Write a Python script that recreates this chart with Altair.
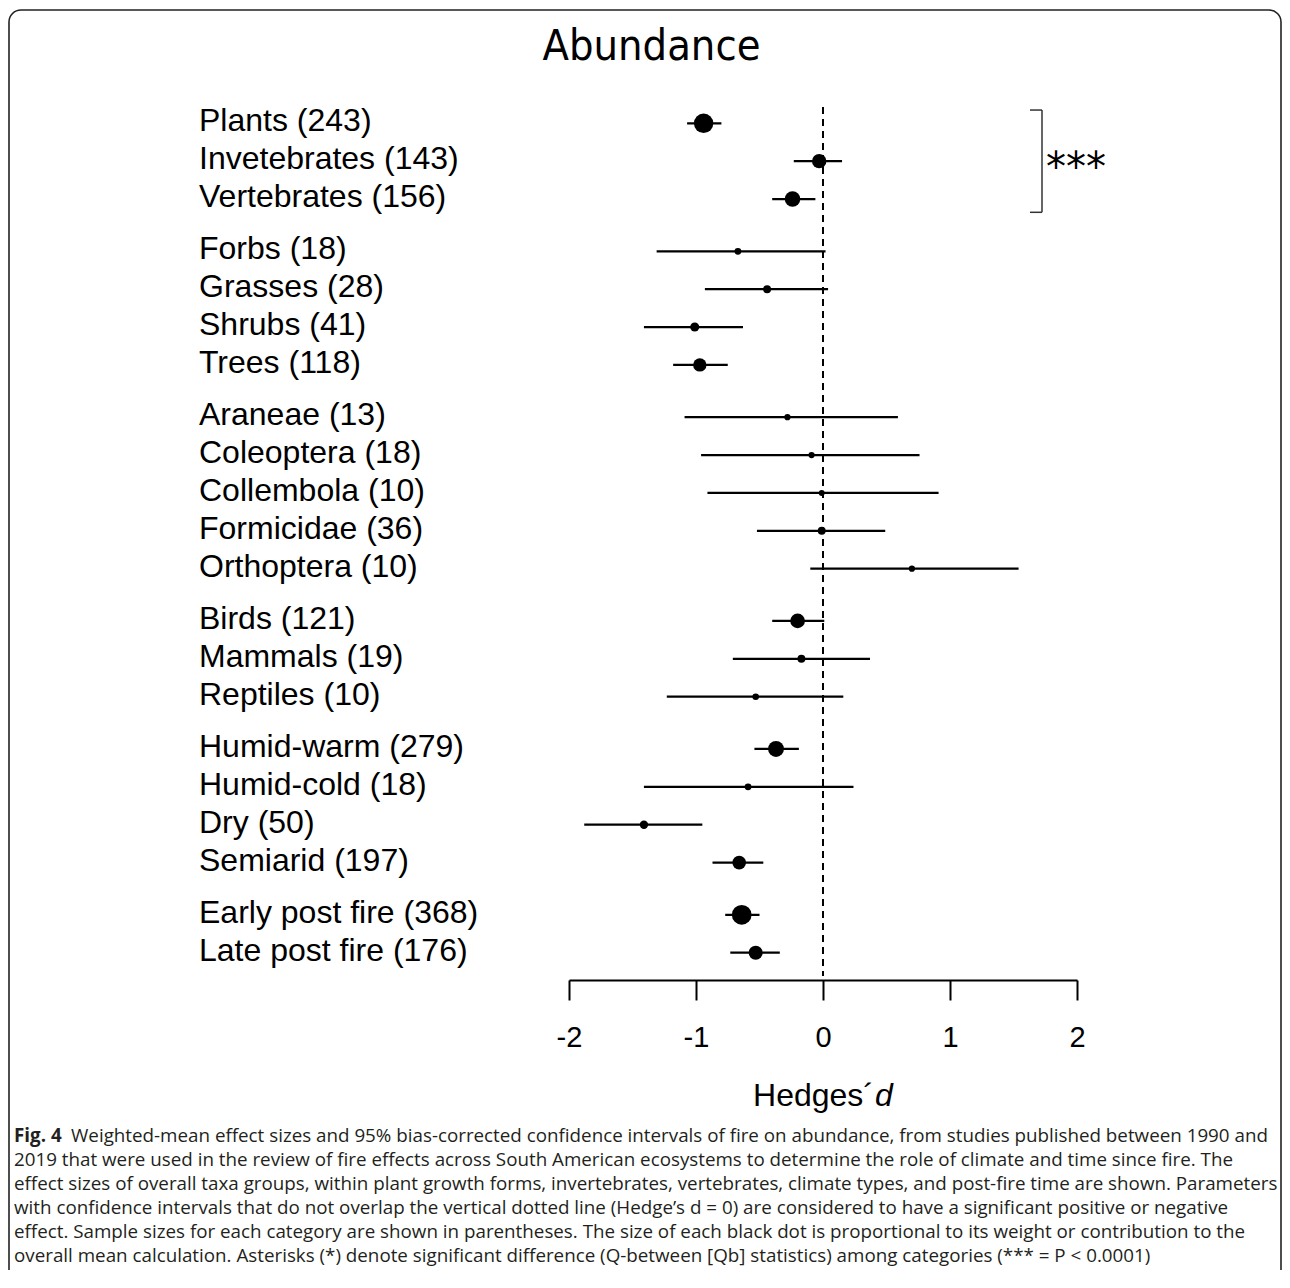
import altair as alt
import pandas as pd

# ---- data ----
names = ["Plants", "Invetebrates", "Vertebrates",
         "Forbs", "Grasses", "Shrubs", "Trees",
         "Araneae", "Coleoptera", "Collembola", "Formicidae", "Orthoptera",
         "Birds", "Mammals", "Reptiles",
         "Humid-warm", "Humid-cold", "Dry", "Semiarid",
         "Early post fire", "Late post fire"]
n = [243, 143, 156, 18, 28, 41, 118, 13, 18, 10, 36, 10, 121, 19, 10,
     279, 18, 50, 197, 368, 176]
group = [0, 0, 0, 1, 1, 1, 1, 2, 2, 2, 2, 2, 3, 3, 3, 4, 4, 4, 4, 5, 5]
mean = [-0.94, -0.03, -0.24, -0.67, -0.44, -1.01, -0.97, -0.28, -0.09, -0.01,
        -0.01, 0.70, -0.20, -0.17, -0.53, -0.37, -0.59, -1.41, -0.66, -0.64, -0.53]
lo = [-1.07, -0.23, -0.40, -1.31, -0.93, -1.41, -1.18, -1.09, -0.96, -0.91,
      -0.52, -0.10, -0.40, -0.71, -1.23, -0.54, -1.41, -1.88, -0.87, -0.77, -0.73]
hi = [-0.80, 0.15, -0.06, 0.02, 0.04, -0.63, -0.75, 0.59, 0.76, 0.91,
      0.49, 1.54, 0.01, 0.37, 0.16, -0.19, 0.24, -0.95, -0.47, -0.50, -0.34]
weight = [97, 53, 62, 12, 16, 21, 46, 10, 10, 9, 16, 10, 55, 16, 11,
          65, 12, 18, 48, 100, 51]

ticks = [-2, -1, 0, 1, 2]
GAP = 0.38

df = pd.DataFrame({
    "name": names, "n": n, "group": group, "mean": mean,
    "lo": lo, "hi": hi, "weight": weight,
})
df["pos"] = [i + GAP * g for i, g in enumerate(group)]
df["label"] = [f"{a} ({b})" for a, b in zip(names, n)]

caption_lines = [
    "2019 that were used in the review of fire effects across South American ecosystems to determine the role of climate and time since fire. The",
    "effect sizes of overall taxa groups, within plant growth forms, invertebrates, vertebrates, climate types, and post-fire time are shown. Parameters",
    "with confidence intervals that do not overlap the vertical dotted line (Hedge\u2019s d = 0) are considered to have a significant positive or negative",
    "effect. Sample sizes for each category are shown in parentheses. The size of each black dot is proportional to its weight or contribution to the",
    "overall mean calculation. Asterisks (*) denote significant difference (Q-between [Qb] statistics) among categories (*** = P < 0.0001)",
]
caption_first = "Weighted-mean effect sizes and 95% bias-corrected confidence intervals of fire on abundance, from studies published between 1990 and"

W, H = 1274, 972
ymax = len(names) - 1 + GAP * group[-1]

xs = alt.Scale(domain=[-2, 2], range=[561, 1069])
ys = alt.Scale(domain=[0, ymax], range=[115.3, 944.7])

one = pd.DataFrame({"a": [0]})

base = alt.Chart(df)

xaxis = alt.Axis(values=ticks, labelExpr="'' + datum.value", title=None,
                 grid=False, domainColor="black", domainWidth=2,
                 tickColor="black", tickWidth=2, tickSize=20,
                 labelFont="Liberation Sans", labelFontSize=29,
                 labelColor="black", labelPadding=23, labelFlush=False)

frame = alt.Chart(one).mark_rect(cornerRadius=12, fillOpacity=0, stroke="#222",
                                 strokeWidth=1.6).encode(
    x=alt.value(1), x2=alt.value(1273), y=alt.value(2), y2=alt.value(1320))

zero = alt.Chart(one).mark_rule(strokeDash=[7, 5], strokeWidth=2, color="black").encode(
    x=alt.datum(0, scale=xs, axis=xaxis), y=alt.value(99), y2=alt.value(968))

bars = base.mark_rule(strokeWidth=2.2, color="black").encode(
    x=alt.X("lo:Q", scale=xs, axis=xaxis), x2="hi:Q",
    y=alt.Y("pos:Q", scale=ys, axis=None))

dots = base.mark_circle(color="black", opacity=1).encode(
    x=alt.X("mean:Q", scale=xs), y=alt.Y("pos:Q", scale=ys),
    size=alt.Size("weight:Q", scale=alt.Scale(domain=[0, 100], range=[0, 390]),
                  legend=None))

labels = base.mark_text(align="left", baseline="alphabetic", dy=8,
                        font="Liberation Sans", fontSize=32, color="black").encode(
    x=alt.value(191), y=alt.Y("pos:Q", scale=ys), text="label:N")

title = alt.Chart(one).mark_text(align="center", baseline="alphabetic",
                                 font="DejaVu Sans Condensed, DejaVu Sans",
                                 fontSize=43, color="black").encode(
    x=alt.value(643.5), y=alt.value(52), text=alt.value("Abundance"))

xt1 = alt.Chart(one).mark_text(align="right", baseline="alphabetic",
                               font="Liberation Sans", fontSize=32, color="black").encode(
    x=alt.value(866), y=alt.value(1098), text=alt.value("Hedges\u00b4"))
xt2 = alt.Chart(one).mark_text(align="left", baseline="alphabetic", fontStyle="italic",
                               font="Liberation Sans", fontSize=32, color="black").encode(
    x=alt.value(867), y=alt.value(1098), text=alt.value("d"))

br_v = alt.Chart(one).mark_rule(color="#333", strokeWidth=1.5).encode(
    x=alt.value(1034), y=alt.datum(-0.35, scale=ys), y2=alt.datum(2.35))
br_t = alt.Chart(pd.DataFrame({"p": [-0.35, 2.35]})).mark_rule(
    color="#333", strokeWidth=1.5).encode(
    x=alt.value(1022), x2=alt.value(1034), y=alt.Y("p:Q", scale=ys))
stars = alt.Chart(one).mark_text(align="left", baseline="middle",
                                 font="DejaVu Sans", fontSize=40, color="black").encode(
    x=alt.value(1038), y=alt.value(161), text=alt.value("***"))

CAP_FS = 18.8
cap_bold = alt.Chart(one).mark_text(align="left", baseline="alphabetic",
                                    font="Open Sans", fontSize=CAP_FS, fontWeight="bold",
                                    color="#231f20").encode(
    x=alt.value(6), y=alt.value(1134), text=alt.value("Fig. 4"))
cap_first = alt.Chart(one).mark_text(align="left", baseline="alphabetic",
                                     font="Open Sans", fontSize=CAP_FS,
                                     color="#231f20").encode(
    x=alt.value(63), y=alt.value(1134), text=alt.value(caption_first))

cap_df = pd.DataFrame({"t": caption_lines,
                       "yy": [1158 + 24 * i for i in range(len(caption_lines))]})
cap_rest = alt.Chart(cap_df).mark_text(align="left", baseline="alphabetic",
                                       font="Open Sans", fontSize=CAP_FS,
                                       color="#231f20").encode(
    x=alt.value(6), y=alt.Y("yy:Q", scale=None), text="t:N")

chart = alt.layer(
    frame, zero, bars, dots, labels, title, xt1, xt2, br_v, br_t, stars,
    cap_bold, cap_first, cap_rest
).properties(
    width=W, height=H,
    autosize=alt.AutoSizeParams(type="none"),
    padding={"left": 0, "top": 0, "right": 0, "bottom": 290},
).configure_view(strokeWidth=0)

chart.save("out.html", embed_options={"renderer": "svg", "actions": False})
